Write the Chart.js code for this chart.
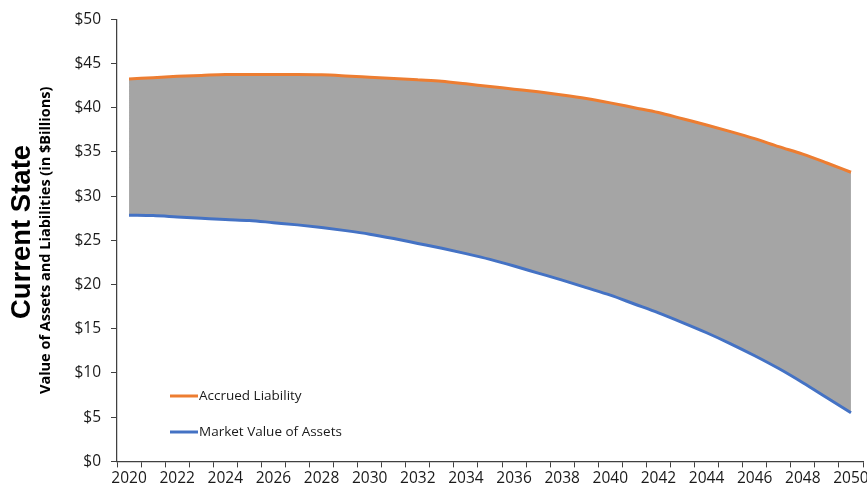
<!DOCTYPE html>
<html>
<head>
<meta charset="utf-8">
<title>Current State</title>
<script src="https://cdn.jsdelivr.net/npm/chart.js@4/dist/chart.umd.min.js"></script>
<style>
  html, body { margin: 0; padding: 0; background: #fff; }
  #wrap { width: 867px; height: 495px; position: relative; }
</style>
</head>
<body>
<div id="wrap"><canvas id="stateChart"></canvas></div>
<script>
// Projection years
const years = [
    '2020', '2021', '2022', '2023', '2024', '2025', '2026', '2027', '2028', '2029',
    '2030', '2031', '2032', '2033', '2034', '2035', '2036', '2037', '2038', '2039',
    '2040', '2041', '2042', '2043', '2044', '2045', '2046', '2047', '2048', '2049',
    '2050'
];

// Accrued liability, $ billions
const accruedLiability = [
    43.25, 43.4, 43.55, 43.65, 43.75, 43.75, 43.75, 43.75, 43.72, 43.6,
    43.45, 43.3, 43.15, 43.0, 42.7, 42.4, 42.1, 41.8, 41.45, 41.05,
    40.55, 40.0, 39.45, 38.75, 38.05, 37.3, 36.5, 35.6, 34.75, 33.75,
    32.7
];

// Market value of assets, $ billions
const marketValue = [
    27.85, 27.8, 27.65, 27.5, 27.35, 27.25, 27.0, 26.75, 26.45, 26.1,
    25.7, 25.2, 24.65, 24.1, 23.5, 22.85, 22.1, 21.3, 20.5, 19.65,
    18.8, 17.8, 16.8, 15.7, 14.55, 13.3, 11.95, 10.5, 8.9, 7.2,
    5.5
];

const yTicks = [0, 5, 10, 15, 20, 25, 30, 35, 40, 45, 50];

const axisColor = '#404040';
const textColor = '#1a1a1a';

// Big rotated heading on the far left
const sideHeading = {
    id: 'sideHeading',
    afterDraw(chart) {
        const ctx = chart.ctx;
        ctx.save();
        ctx.translate(22, 232);
        ctx.rotate(-Math.PI / 2);
        ctx.font = 'bold 27.5px "Liberation Sans", Arial';
        ctx.fillStyle = '#000';
        ctx.textAlign = 'center';
        ctx.textBaseline = 'middle';
        ctx.fillText('Current State', 0, 0);
        ctx.restore();
    }
};

// Small legend drawn inside the plot, bottom-left
const insideLegend = {
    id: 'insideLegend',
    afterDraw(chart) {
        const ctx = chart.ctx;
        const x0 = 170, y0 = 396, gap = 36;
        ctx.save();
        ctx.font = '13.5px "Open Sans"';
        ctx.textBaseline = 'middle';
        ctx.textAlign = 'left';
        chart.data.datasets.forEach((ds, i) => {
            const y = y0 + i * gap;
            ctx.strokeStyle = ds.borderColor;
            ctx.lineWidth = 3;
            ctx.beginPath();
            ctx.moveTo(x0, y);
            ctx.lineTo(x0 + 28, y);
            ctx.stroke();
            ctx.fillStyle = textColor;
            ctx.fillText(ds.label, x0 + 29, y);
        });
        ctx.restore();
    }
};

const ctx = document.getElementById('stateChart').getContext('2d');

new Chart(ctx, {
    type: 'line',
    data: {
        labels: years,
        datasets: [
            {
                label: 'Accrued Liability',
                data: accruedLiability,
                borderColor: '#ED7D31',
                backgroundColor: '#A5A5A5',
                borderWidth: 3,
                pointRadius: 0,
                fill: '+1',
                cubicInterpolationMode: 'monotone'
            },
            {
                label: 'Market Value of Assets',
                data: marketValue,
                borderColor: '#4472C4',
                backgroundColor: '#4472C4',
                borderWidth: 3,
                pointRadius: 0,
                fill: false,
                cubicInterpolationMode: 'monotone'
            }
        ]
    },
    options: {
        responsive: true,
        maintainAspectRatio: false,
        animation: false,
        layout: {
            padding: { left: 37, right: 4, top: 6, bottom: 5 }
        },
        plugins: {
            legend: { display: false },
            tooltip: { enabled: false },
            filler: { drawTime: 'beforeDatasetsDraw' }
        },
        scales: {
            x: {
                offset: true,
                grid: {
                    display: true,
                    drawOnChartArea: false,
                    offset: true,
                    tickLength: 6,
                    color: axisColor
                },
                border: { display: true, color: axisColor, width: 1.25 },
                ticks: {
                    autoSkip: false,
                    maxRotation: 0,
                    padding: 2,
                    color: textColor,
                    font: { family: '"Open Sans"', size: 15.5 },
                    callback: (v, i) => (i % 2 === 0 ? years[i] : '')
                },
                afterFit: s => { s.paddingRight = 0; }
            },
            y: {
                min: yTicks[0],
                max: yTicks[yTicks.length - 1],
                afterBuildTicks: s => { s.ticks = yTicks.map(v => ({ value: v })); },
                grid: {
                    display: true,
                    drawOnChartArea: false,
                    tickLength: 6,
                    color: axisColor
                },
                border: { display: true, color: axisColor, width: 1.25 },
                ticks: {
                    padding: 10,
                    color: textColor,
                    font: { family: '"Open Sans"', size: 15.5 },
                    callback: v => '$' + v
                },
                title: {
                    display: true,
                    text: 'Value of Assets and Liabilities (in $Billions)',
                    color: '#000',
                    font: { family: '"Open Sans"', size: 14.5, weight: 'bold' },
                    padding: 0
                },
                afterFit: s => { s.width = 80; }
            }
        }
    },
    plugins: [insideLegend, sideHeading]
});
</script>
</body>
</html>
